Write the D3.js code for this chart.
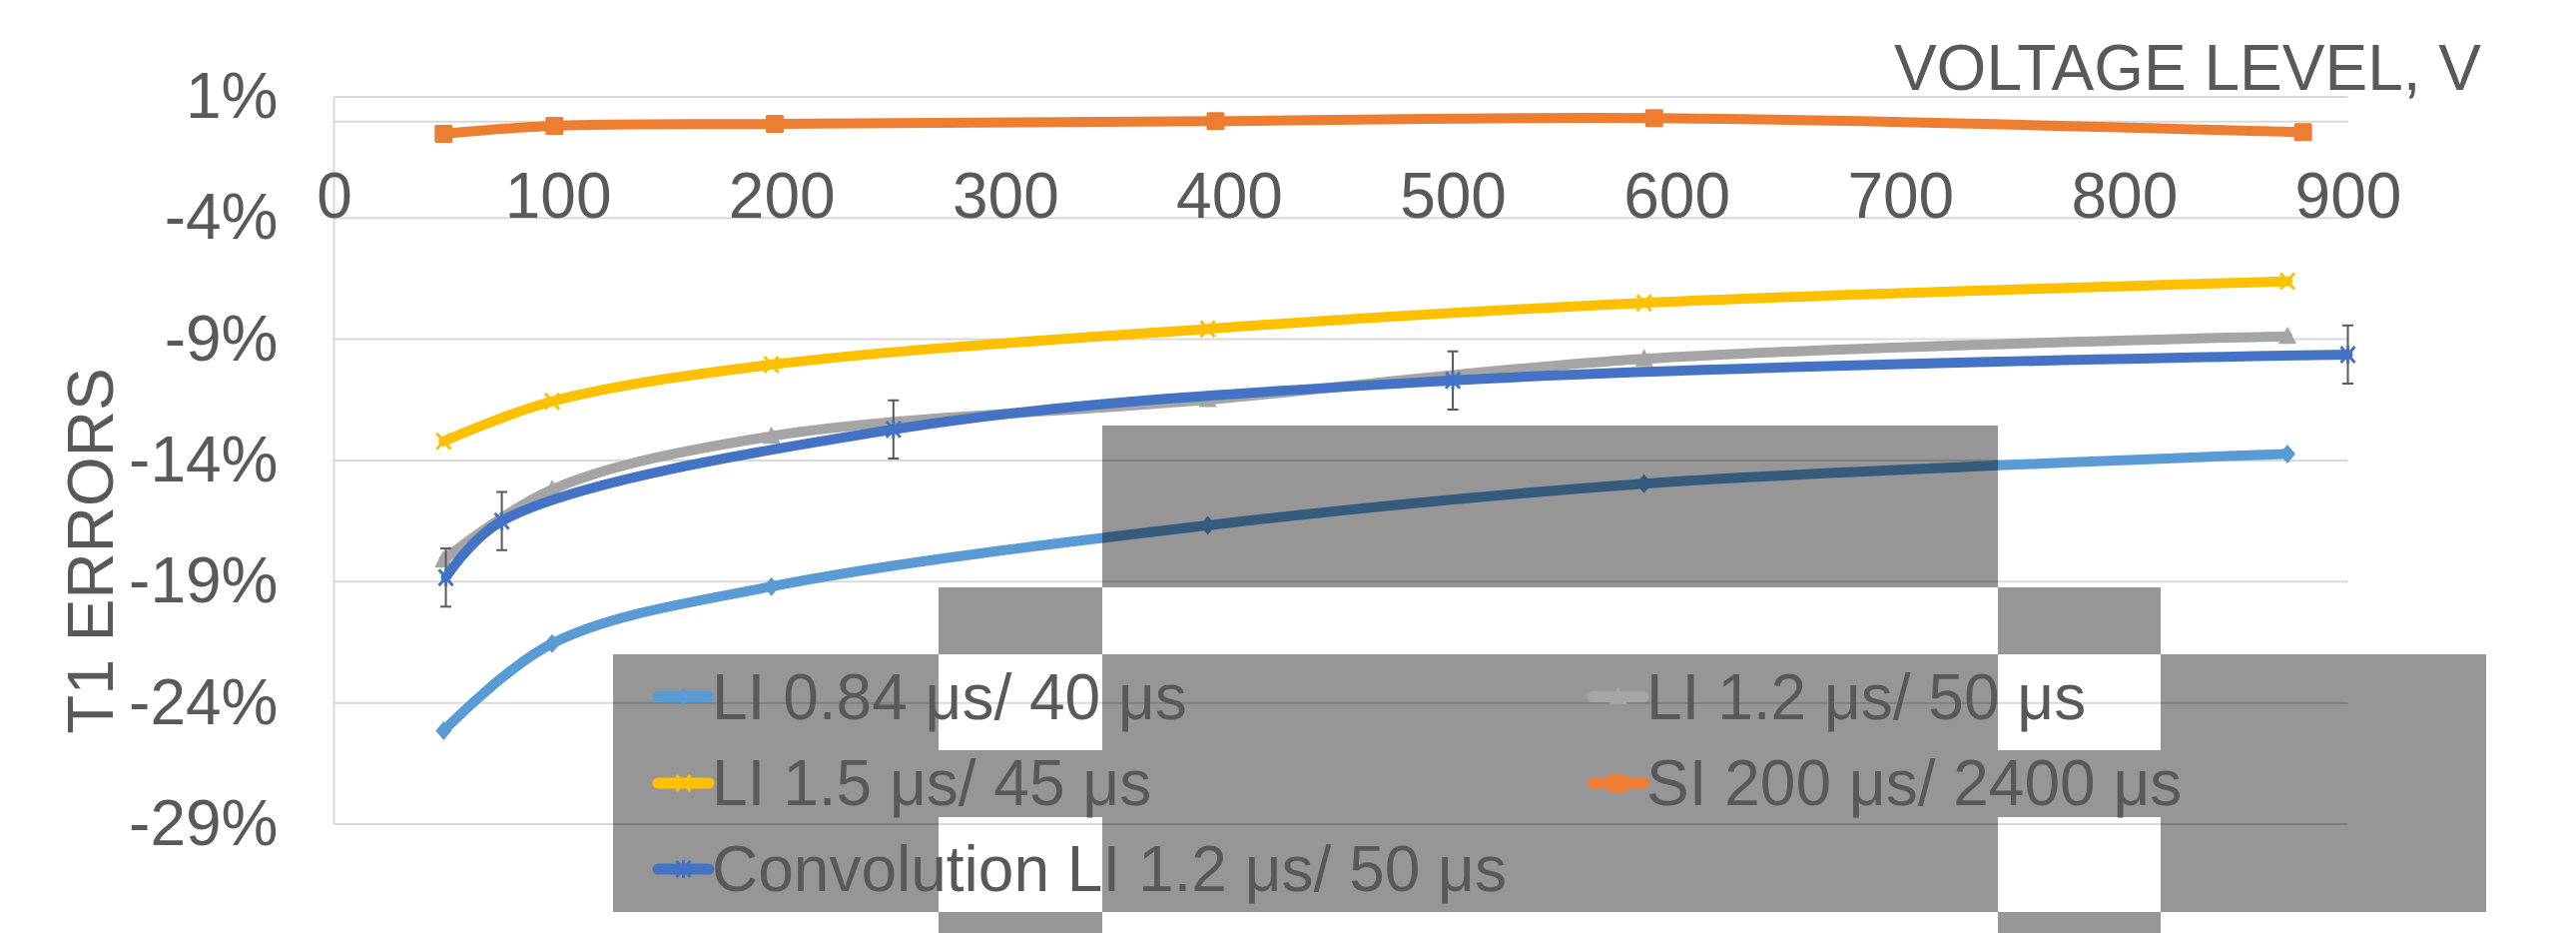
<!DOCTYPE html>
<html>
<head>
<meta charset="utf-8">
<script src="https://cdn.jsdelivr.net/npm/d3@7"></script>
<style>
  html, body { margin: 0; padding: 0; background: #fff; }
  svg { display: block; }
  text { font-family: "Liberation Sans", Arial, sans-serif; fill: #595959; }
</style>
</head>
<body>
<svg id="chart" width="2580" height="934"></svg>
<script>
// Applied voltage levels (V) for each group of measurements
const liVoltage   = [49, 97.5, 195.5, 390.5, 585.5, 873];
const siVoltage   = [49, 98.5, 197, 394, 590, 880];
const convVoltage = [50, 75, 250, 500, 900];

// T1 errors (%)
const li084  = [-25.15, -21.55, -19.2, -16.68, -14.96, -13.73];
const li12   = [-18.1, -15.2, -13.0, -11.49, -9.81, -8.88];
const li15   = [-13.21, -11.56, -10.05, -8.57, -7.5, -6.61];
const si200  = [-0.53, -0.2, -0.12, 0.0, 0.12, -0.46];
const conv12 = [-18.83, -16.5, -12.72, -10.7, -9.63];
const convErr = [1.2, 1.2, 1.2, 1.2, 1.2];

const seriesNames = [
  "LI 0.84 μs/ 40 μs",
  "LI 1.2 μs/ 50 μs",
  "LI 1.5 μs/ 45 μs",
  "SI 200 μs/ 2400 μs",
  "Convolution LI 1.2 μs/ 50 μs"
];

// Axis ticks
const xTicks = [0, 100, 200, 300, 400, 500, 600, 700, 800, 900];
const yTicks = [1, -4, -9, -14, -19, -24, -29];

const xTitle = "VOLTAGE LEVEL, V";
const yTitle = "T1 ERRORS";

// ---- layout ----
const plot = { left: 334.5, right: 2351.5, top: 96.9, bottom: 825 };
const FONT = 64;
const GRID = "#D9D9D9";
const TEXT = "#595959";

const series = [
  { name: seriesNames[0], xs: liVoltage,   ys: li084,  color: "#5B9BD5", marker: "diamond" },
  { name: seriesNames[1], xs: liVoltage,   ys: li12,   color: "#A5A5A5", marker: "triangle" },
  { name: seriesNames[2], xs: liVoltage,   ys: li15,   color: "#FFC000", marker: "x" },
  { name: seriesNames[3], xs: siVoltage,   ys: si200,  color: "#ED7D31", marker: "square" },
  { name: seriesNames[4], xs: convVoltage, ys: conv12, color: "#4472C4", marker: "star", err: convErr }
];

const svg = d3.select("#chart");

const x = d3.scaleLinear().domain([0, 900]).range([plot.left, plot.right]);
const y = d3.scaleLinear().domain([-29, 1]).range([plot.bottom, plot.top]);

// gridlines
svg.append("g")
  .selectAll("line")
  .data(yTicks)
  .join("line")
  .attr("x1", plot.left).attr("x2", plot.right)
  .attr("y1", d => y(d)).attr("y2", d => y(d))
  .attr("stroke", GRID).attr("stroke-width", 2);

// vertical value-axis line
svg.append("line")
  .attr("x1", plot.left).attr("x2", plot.left)
  .attr("y1", y(1)).attr("y2", y(-29))
  .attr("stroke", GRID).attr("stroke-width", 2);

// y axis labels
const yAxis = svg.append("g")
  .attr("transform", `translate(${plot.left},0)`)
  .call(d3.axisLeft(y).tickValues(yTicks).tickFormat(d => d + "%").tickSize(0).tickPadding(56));
yAxis.select(".domain").remove();
yAxis.attr("font-family", null).attr("font-size", null);
yAxis.selectAll("text").attr("font-size", FONT).attr("fill", TEXT);

// x axis crossing at 0 %
const xAxis = svg.append("g")
  .attr("transform", `translate(0,${y(0)})`)
  .call(d3.axisBottom(x).tickValues(xTicks).tickSize(0).tickSizeOuter(0).tickPadding(51.5));
xAxis.attr("font-family", null).attr("font-size", null);
xAxis.select(".domain").attr("stroke", GRID).attr("stroke-width", 2);
xAxis.selectAll("text").attr("font-size", FONT).attr("fill", TEXT);

// axis titles
svg.append("text")
  .attr("x", 2485).attr("y", 90)
  .attr("text-anchor", "end")
  .attr("font-size", FONT)
  .text(xTitle);

svg.append("text")
  .attr("transform", "translate(113,551.5) rotate(-90)")
  .attr("text-anchor", "middle")
  .attr("font-size", FONT)
  .text(yTitle);

// marker shapes centred on (0,0)
function addMarker(g, type, color) {
  switch (type) {
    case "square":
      g.append("rect").attr("x", -9).attr("y", -9).attr("width", 18).attr("height", 18)
        .attr("rx", 1.5).attr("fill", color);
      break;
    case "diamond":
      g.append("path").attr("d", "M0,-9.5L8,0L0,9.5L-8,0Z").attr("fill", color);
      break;
    case "triangle":
      g.append("path").attr("d", "M0,-10L9,7.5L-9,7.5Z").attr("fill", color);
      break;
    case "x":
      g.append("path").attr("d", "M-7,-8L7,8M-7,8L7,-8")
        .attr("stroke", color).attr("stroke-width", 3).attr("fill", "none");
      break;
    case "star":
      g.append("path").attr("d", "M-7,-8L7,8M-7,8L7,-8M0,-9L0,9")
        .attr("stroke", color).attr("stroke-width", 3).attr("fill", "none");
      break;
  }
}

const line = d3.line()
  .x(d => x(d[0]))
  .y(d => y(d[1]))
  .curve(d3.curveCatmullRom.alpha(0.5));

const plotG = svg.append("g");
series.forEach(s => {
  const pts = s.xs.map((v, i) => [v, s.ys[i]]);
  const g = plotG.append("g");
  g.append("path")
    .attr("d", line(pts))
    .attr("fill", "none")
    .attr("stroke", s.color)
    .attr("stroke-width", 10)
    .attr("stroke-linecap", "round")
    .attr("stroke-linejoin", "round");

  if (s.err) {
    const eb = g.append("g").attr("stroke", TEXT).attr("stroke-width", 2);
    pts.forEach((p, i) => {
      const cx = x(p[0]);
      const y1 = y(p[1] + s.err[i]), y2 = y(p[1] - s.err[i]);
      eb.append("line").attr("x1", cx).attr("x2", cx).attr("y1", y1).attr("y2", y2);
      eb.append("line").attr("x1", cx - 5.5).attr("x2", cx + 5.5).attr("y1", y1).attr("y2", y1);
      eb.append("line").attr("x1", cx - 5.5).attr("x2", cx + 5.5).attr("y1", y2).attr("y2", y2);
    });
  }

  pts.forEach(p => {
    const m = g.append("g").attr("transform", `translate(${x(p[0])},${y(p[1])})`);
    addMarker(m, s.marker, s.color);
  });
});

// translucent grey panel over the lower part of the chart
const shadeRects = [
  [1104, 426, 2001, 588],
  [614, 655, 2490, 913],
  [940, 588, 1104, 934],
  [2001, 588, 2164, 934],
  [940, 751, 1104, 818],
  [2001, 751, 2164, 818]
];
const shadePath = shadeRects
  .map(([x0, y0, x1, y1]) => `M${x0},${y0}H${x1}V${y1}H${x0}Z`)
  .join("");
svg.append("path")
  .attr("d", shadePath)
  .attr("fill", "rgba(0,0,0,0.41)")
  .attr("fill-rule", "evenodd");

// legend
const legendPos = [
  [654, 697.5],
  [1590, 697.5],
  [654, 784],
  [1590, 784],
  [654, 870]
];
const legend = svg.append("g");
series.forEach((s, i) => {
  const [lx, ly] = legendPos[i];
  const g = legend.append("g").attr("transform", `translate(${lx},${ly})`);
  g.append("line")
    .attr("x1", 5).attr("x2", 56).attr("y1", 0).attr("y2", 0)
    .attr("stroke", s.color).attr("stroke-width", 11)
    .attr("stroke-linecap", "round");
  const m = g.append("g").attr("transform", "translate(30.5,0)");
  addMarker(m, s.marker, s.color);
  g.append("text")
    .attr("x", 59).attr("y", 22)
    .attr("font-size", FONT)
    .text(s.name);
});
</script>
</body>
</html>
